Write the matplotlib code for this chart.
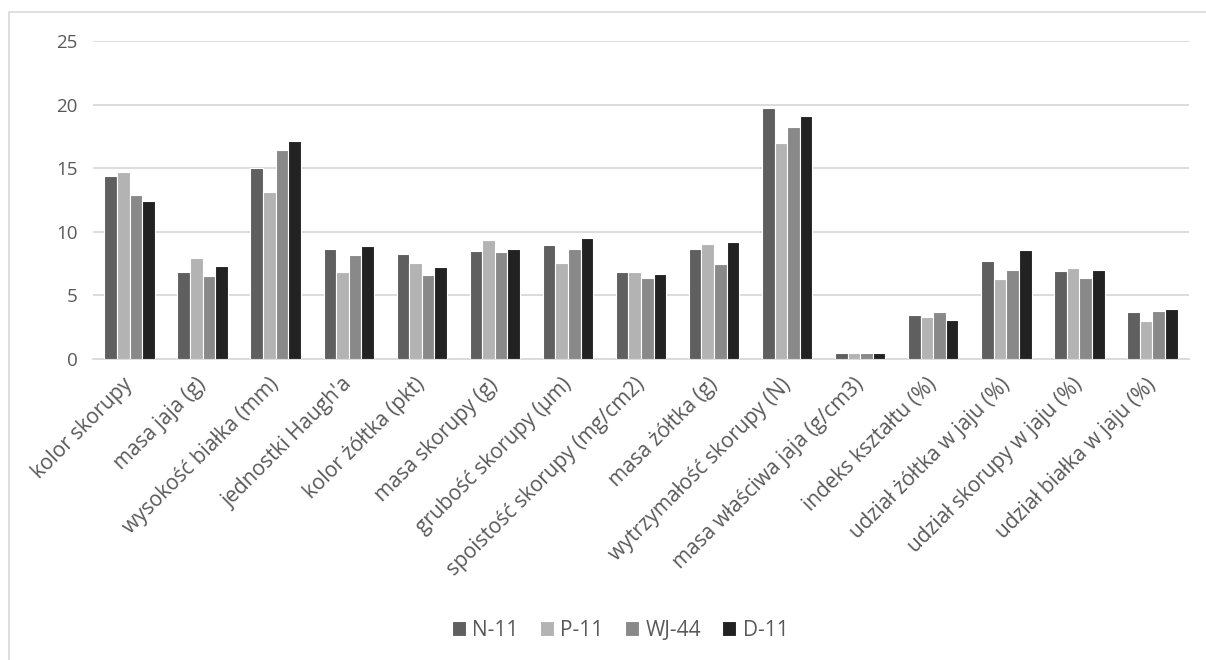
import numpy as np
import matplotlib.pyplot as plt
import matplotlib.transforms as mtransforms
from matplotlib.patches import Rectangle

plt.rcParams['font.family'] = ['Open Sans', 'DejaVu Sans']

# Data
categories = ['kolor skorupy', 'masa jaja (g)', 'wysokość białka (mm)',
              "jednostki Haugh'a", 'kolor żółtka (pkt)', 'masa skorupy (g)',
              'grubość skorupy (µm)', 'spoistość skorupy (mg/cm2)',
              'masa żółtka (g)', 'wytrzymałość skorupy (N)',
              'masa właściwa jaja (g/cm3)', 'indeks kształtu (%)',
              'udział żółtka w jaju (%)', 'udział skorupy w jaju (%)',
              'udział białka w jaju (%)']
series_names = ['N-11', 'P-11', 'WJ-44', 'D-11']
n11 = [14.37, 6.81, 15.0, 8.66, 8.22, 8.46, 8.93, 6.81, 8.66, 19.74, 0.50, 3.48, 7.70, 6.88, 3.72]
p11 = [14.74, 7.91, 13.12, 6.81, 7.51, 9.32, 7.57, 6.81, 9.01, 17.02, 0.47, 3.30, 6.28, 7.15, 3.01]
wj44 = [12.88, 6.54, 16.41, 8.17, 6.57, 8.38, 8.61, 6.39, 7.49, 18.27, 0.45, 3.69, 6.99, 6.39, 3.74]
d11 = [12.41, 7.33, 17.12, 8.87, 7.23, 8.64, 9.48, 6.70, 9.21, 19.11, 0.50, 3.06, 8.59, 6.96, 3.93]
yticks = [0, 5, 10, 15, 20, 25]

colors = ['#5f5f5f', '#b3b3b3', '#898989', '#222222']
text_color = '#595959'
grid_color = '#d9d9d9'

fig = plt.figure(figsize=(12.06, 6.6), dpi=100)
ax = fig.add_axes([93/1206, 1-359/660, (1189-93)/1206, (359-41)/660])

# Chart border (light gray frame, open to the right and bottom)
fig.patches.append(Rectangle((8.5/1206, -0.1), 1.2, 1 - 11.5/660 + 0.1,
                             transform=fig.transFigure, fill=False,
                             edgecolor=grid_color, linewidth=1.2))

x = np.arange(len(categories))
group = 0.69
w = group/4
for i, (vals, name) in enumerate(zip([n11, p11, wj44, d11], series_names)):
    ax.bar(x - group/2 + w*(i+0.5), vals, width=w, color=colors[i],
           edgecolor='white', linewidth=0.8, label=name, zorder=3)

ax.set_xlim(-0.5, len(categories)-0.5)
ax.set_ylim(0, 25)
ax.set_yticks(yticks)
ax.yaxis.grid(True, color=grid_color, linewidth=1.3, zorder=0)
ax.set_axisbelow(True)
for s in ['top', 'right', 'left']:
    ax.spines[s].set_visible(False)
ax.spines['bottom'].set_color(grid_color)
ax.spines['bottom'].set_linewidth(1.3)
ax.tick_params(axis='both', length=0, colors=text_color)
ax.tick_params(axis='y', pad=11, labelsize=13.5)

ax.set_xticks(x)
ax.set_xticklabels(categories, rotation=45, ha='right', rotation_mode='anchor',
                   color=text_color, fontsize=15)
ax.tick_params(axis='x', pad=11)
shift = mtransforms.ScaledTranslation(-7/100, 0, fig.dpi_scale_trans)
for lbl in ax.get_xticklabels():
    lbl.set_transform(lbl.get_transform() + shift)

leg = fig.legend(loc='center', bbox_to_anchor=(620/1206, 1-630/660), ncol=4,
                 frameon=False, fontsize=15, handlelength=0.7,
                 handleheight=0.7, handletextpad=0.3, columnspacing=1.0)
for t in leg.get_texts():
    t.set_color(text_color)

fig.savefig('out.png', dpi=100)
